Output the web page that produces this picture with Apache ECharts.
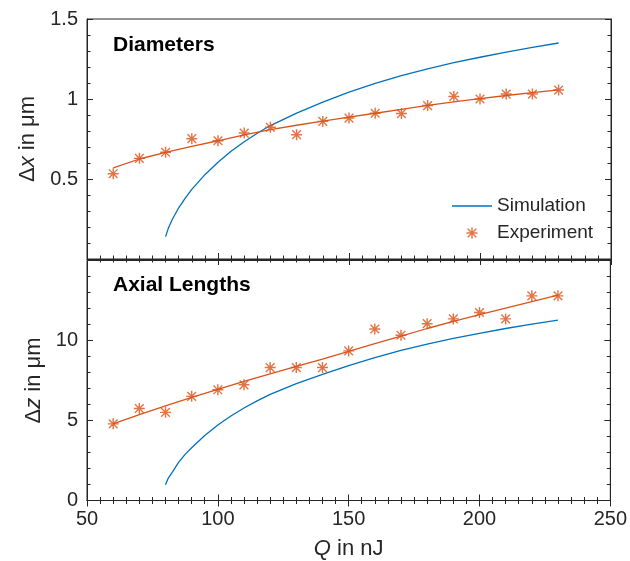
<!DOCTYPE html>
<html>
<head>
<meta charset="utf-8">
<script src="https://cdn.jsdelivr.net/npm/echarts@6/dist/echarts.min.js"></script>
<style>
  html, body { margin: 0; padding: 0; background: #fff; }
  #chart { width: 630px; height: 561px; }
</style>
</head>
<body>
<div id="chart"></div>
<script>
  // pulse energy of the measured points
  const qExp = [60, 70, 80, 90, 100, 110, 120, 130, 140, 150, 160, 170, 180, 190, 200, 210, 220, 230]
  // diameters (top panel)
  const dxExp = [0.533, 0.629, 0.667, 0.752, 0.739, 0.787, 0.823, 0.777, 0.860, 0.881, 0.911, 0.909, 0.959, 1.016, 1.000, 1.031, 1.031, 1.056]
  const dxFit = [0.569, 0.625, 0.667, 0.704, 0.739, 0.776, 0.808, 0.836, 0.862, 0.887, 0.911, 0.935, 0.960, 0.982, 1.002, 1.022, 1.040, 1.057]
  // axial lengths (bottom panel)
  const dzExp = [4.79, 5.75, 5.51, 6.51, 6.92, 7.23, 8.31, 8.31, 8.31, 9.35, 10.72, 10.33, 11.05, 11.35, 11.75, 11.35, 12.79, 12.79]
  const dzFit = [4.79, 5.37, 5.92, 6.45, 6.95, 7.45, 7.92, 8.38, 8.84, 9.32, 9.80, 10.28, 10.75, 11.20, 11.62, 12.03, 12.43, 12.83]
  // simulation curves
  const qSim = [80, 81, 82.5, 85, 87.5, 90, 95, 100, 105, 110, 115, 120, 130, 140, 150, 160, 170, 180, 190, 200, 210, 220, 230]
  const dxSim = [0.14, 0.19, 0.245, 0.32, 0.38, 0.435, 0.527, 0.605, 0.674, 0.733, 0.786, 0.834, 0.912, 0.981, 1.043, 1.097, 1.146, 1.189, 1.227, 1.261, 1.293, 1.322, 1.350]
  const dzSim = [0.98, 1.38, 1.74, 2.38, 2.88, 3.30, 4.06, 4.72, 5.28, 5.78, 6.23, 6.63, 7.30, 7.88, 8.43, 8.93, 9.38, 9.78, 10.13, 10.45, 10.75, 11.02, 11.27]
  // tick labels
  const qTicks = [50, 100, 150, 200, 250]
  const dxTicks = [0.5, 1, 1.5]
  const dzTicks = [0, 5, 10]

  const blue = '#0072BD'
  const orange = '#D95319'
  const axisColor = '#262626'
  const font = 'Liberation Sans, Arial, Helvetica, sans-serif'
  const asterisk = 'path://M8.7 0L11.3 0L11.3 20L8.7 20Z M0 8.7L20 8.7L20 11.3L0 11.3Z M3.0 1.2L18.8 17.0L17.0 18.8L1.2 3.0Z M17.0 1.2L18.8 3.0L3.0 18.8L1.2 17.0Z'
  const dash = 'path://M0 0L40 0L40 1.3L0 1.3Z'

  const zip = (xs, ys) => xs.map((x, i) => [x, ys[i]])

  function xAxisOf(grid, position, labels) {
    return {
      type: 'value', gridIndex: grid, position: position,
      min: 50, max: 250, interval: 50,
      axisLine: { show: true, lineStyle: { color: axisColor, width: 1 } },
      axisTick: { show: true, inside: true, length: 6, lineStyle: { color: axisColor } },
      minorTick: { show: true, splitNumber: 10, length: 3.5, lineStyle: { color: axisColor } },
      splitLine: { show: false },
      axisLabel: {
        show: labels, margin: 9, color: axisColor, fontSize: 20, fontFamily: font,
        formatter: v => qTicks.includes(v) ? String(v) : ''
      },
      name: labels ? '{i|Q} in nJ' : '',
      nameLocation: 'middle', nameGap: 37,
      nameTextStyle: {
        fontSize: 22, fontFamily: font, color: axisColor,
        rich: { i: { fontSize: 22, fontFamily: font, fontStyle: 'italic', color: axisColor } }
      }
    }
  }

  function yAxisOf(grid, position, max, interval, ticks, name) {
    return {
      type: 'value', gridIndex: grid, position: position,
      min: 0, max: max, interval: interval,
      axisLine: { show: true, lineStyle: { color: axisColor, width: 1 } },
      axisTick: { show: true, inside: true, length: 6, lineStyle: { color: axisColor } },
      minorTick: { show: true, splitNumber: 5, length: 3.5, lineStyle: { color: axisColor } },
      splitLine: { show: false },
      axisLabel: {
        show: position === 'left', margin: 9, color: axisColor, fontSize: 20, fontFamily: font,
        formatter: v => ticks.includes(v) ? String(v) : ''
      },
      name: name,
      nameLocation: 'middle', nameGap: 36,
      nameTextStyle: {
        fontSize: 22, fontFamily: font, color: axisColor,
        rich: { i: { fontSize: 22, fontFamily: font, fontStyle: 'italic', color: axisColor } }
      }
    }
  }

  function curve(name, xi, data, color) {
    return {
      name: name, type: 'line', xAxisIndex: xi, yAxisIndex: xi,
      data: data, smooth: false, symbol: 'none',
      lineStyle: { color: color, width: 1.3 }, itemStyle: { color: color }
    }
  }

  function stars(xi, data) {
    return {
      name: 'Experiment', type: 'scatter', xAxisIndex: xi, yAxisIndex: xi,
      data: data, symbol: asterisk, symbolSize: 11,
      itemStyle: { color: orange }, z: 5
    }
  }

  const chart = echarts.init(document.getElementById('chart'))
  chart.setOption({
    animation: false,
    textStyle: { fontFamily: font },
    title: [
      { text: 'Diameters', left: 113, top: 35, padding: 0, textStyle: { fontSize: 21, fontWeight: 'bold', color: '#000', fontFamily: font } },
      { text: 'Axial Lengths', left: 113, top: 275, padding: 0, textStyle: { fontSize: 21, fontWeight: 'bold', color: '#000', fontFamily: font } }
    ],
    legend: {
      data: [{ name: 'Simulation', icon: dash }, { name: 'Experiment', icon: asterisk }],
      orient: 'vertical', left: 447, top: 191,
      itemWidth: 40, itemHeight: 11, itemGap: 7,
      textStyle: { fontSize: 19, color: axisColor, fontFamily: font, lineHeight: 20 },
      symbolKeepAspect: true
    },
    grid: [
      { left: 87, right: 19, top: 19, height: 240, show: true, borderColor: axisColor, borderWidth: 1 },
      { left: 87, right: 19, top: 260.5, height: 240, show: true, borderColor: axisColor, borderWidth: 1 }
    ],
    xAxis: [
      xAxisOf(0, 'bottom', false),
      xAxisOf(0, 'top', false),
      xAxisOf(1, 'bottom', true),
      xAxisOf(1, 'top', false)
    ],
    yAxis: [
      yAxisOf(0, 'left', 1.5, 0.5, dxTicks, 'Δ{i|x} in μm'),
      yAxisOf(0, 'right', 1.5, 0.5, [], ''),
      yAxisOf(1, 'left', 15, 5, dzTicks, 'Δ{i|z} in μm'),
      yAxisOf(1, 'right', 15, 5, [], '')
    ],
    series: [
      curve('Simulation', 0, zip(qSim, dxSim), blue),
      curve('Fit', 0, zip(qExp, dxFit), orange),
      stars(0, zip(qExp, dxExp)),
      curve('Simulation', 2, zip(qSim, dzSim), blue),
      curve('Fit', 2, zip(qExp, dzFit), orange),
      stars(2, zip(qExp, dzExp))
    ]
  })
</script>
</body>
</html>
